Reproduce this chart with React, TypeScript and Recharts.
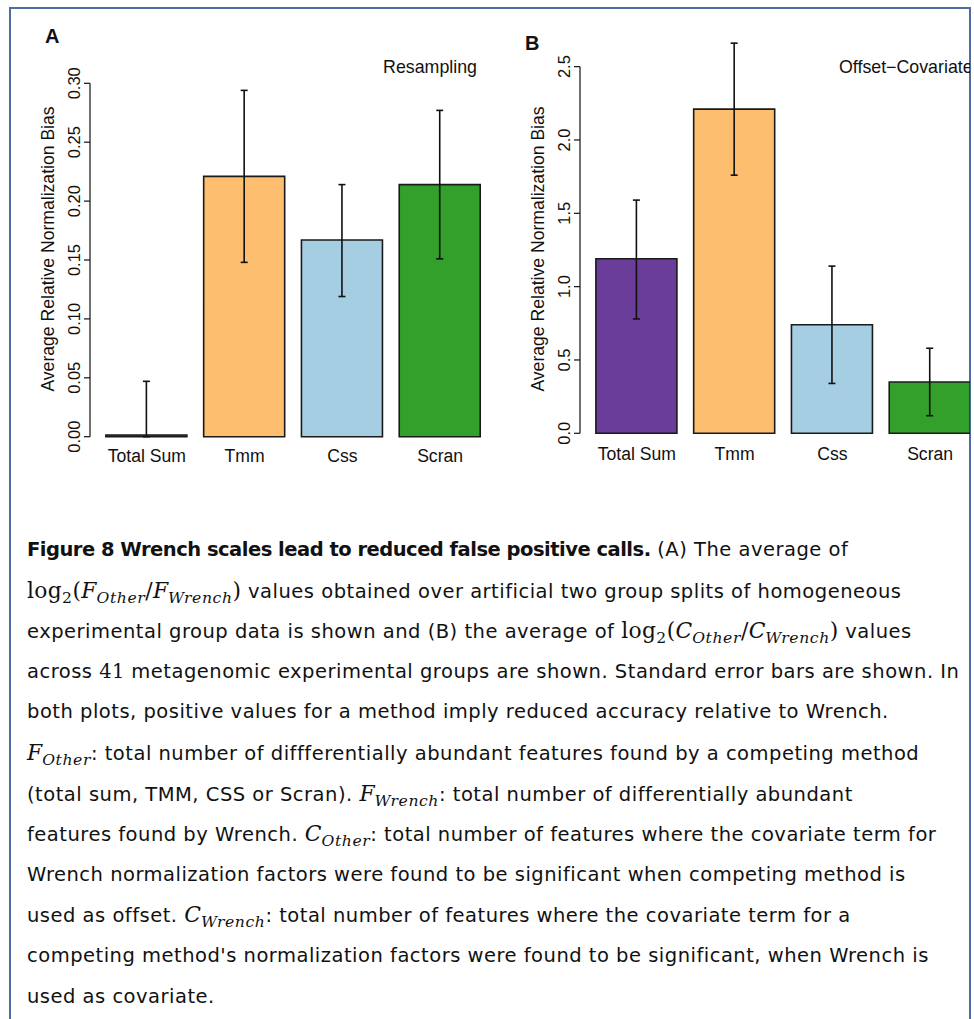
import React from "react";
import { BarChart, Bar, XAxis, YAxis, Cell, ErrorBar, ReferenceLine } from "recharts";

const methods = ["Total Sum", "Tmm", "Css", "Scran"];
const methodColors = ["#6A3D9A", "#FDBF6F", "#A6CEE3", "#33A02C"];

// panel A: resampling
const resamplingMean = [0.0015, 0.221, 0.167, 0.214];
const resamplingLow = [0.0, 0.148, 0.119, 0.151];
const resamplingHigh = [0.047, 0.294, 0.214, 0.277];
const resamplingTicks = [0, 0.05, 0.1, 0.15, 0.2, 0.25, 0.3];

// panel B: offset-covariate
const offsetMean = [1.19, 2.21, 0.74, 0.35];
const offsetLow = [0.78, 1.76, 0.34, 0.12];
const offsetHigh = [1.59, 2.66, 1.14, 0.58];
const offsetTicks = [0, 0.5, 1, 1.5, 2, 2.5];

const AXIS_FONT = "'Liberation Sans', Arial, Helvetica, sans-serif";
const CAPTION_FONT = "'DejaVu Sans', 'Noto Sans', sans-serif";
const MATH_FONT = "'DejaVu Serif', 'Liberation Serif', serif";
const FRAME = "#4d6e9e";
const X_AXIS_H = 30;

function buildRows(mean: number[], low: number[], high: number[]) {
  return methods.map((m, i) => ({
    method: m,
    value: mean[i],
    err: [mean[i] - low[i], high[i] - mean[i]],
  }));
}

function YTick(props: any) {
  const { x, y, payload, decimals } = props;
  return (
    <text
      x={x}
      y={y}
      transform={`rotate(-90 ${x} ${y})`}
      textAnchor="middle"
      fontSize={16.5}
      fontFamily={AXIS_FONT}
      fill="#111"
    >
      {Number(payload.value).toFixed(decimals)}
    </text>
  );
}

function XTick(props: any) {
  const { x, y, payload, dy } = props;
  return (
    <text x={x} y={y + dy} textAnchor="middle" fontSize={17.6} fontFamily={AXIS_FONT} fill="#111">
      {payload.value}
    </text>
  );
}

interface PanelProps {
  rows: { method: string; value: number; err: number[] }[];
  ticks: number[];
  yMax: number;
  decimals: number;
  top: number;
  bottom: number;
  labelDy: number;
}

function Panel({ rows, ticks, yMax, decimals, top, bottom, labelDy }: PanelProps) {
  return (
    <BarChart
      width={490}
      height={480}
      data={rows}
      margin={{ top, right: 1, bottom: bottom - X_AXIS_H, left: 0 }}
    >
      <XAxis
        dataKey="method"
        height={X_AXIS_H}
        axisLine={false}
        tickLine={false}
        tickSize={0}
        tickMargin={0}
        interval={0}
        padding={{ left: 7.9, right: 0 }}
        tick={<XTick dy={labelDy} />}
      />
      <XAxis xAxisId="frame" type="number" domain={[0, 1]} hide />
      <YAxis
        width={90}
        type="number"
        domain={[0, yMax]}
        ticks={ticks}
        interval={0}
        axisLine={false}
        tickLine={{ stroke: "#111", strokeWidth: 1.2 }}
        tickSize={6}
        tickMargin={4}
        tick={<YTick decimals={decimals} />}
      />
      <ReferenceLine
        xAxisId="frame"
        segment={[
          { x: 0, y: ticks[0] },
          { x: 0, y: ticks[ticks.length - 1] },
        ]}
        stroke="#111"
        strokeWidth={1.2}
      />
      <Bar dataKey="value" barSize={81} stroke="#1a1a1a" strokeWidth={1.6} isAnimationActive={false}>
        {rows.map((_, i) => (
          <Cell key={i} fill={methodColors[i]} />
        ))}
        <ErrorBar dataKey="err" direction="y" width={3.5} stroke="#111" strokeWidth={1.6} isAnimationActive={false} />
      </Bar>
    </BarChart>
  );
}

function PanelText({ letter, letterX, letterY, title, titleX, anchor }: any) {
  return (
    <svg width={490} height={480} style={{ position: "absolute", left: 0, top: 0, pointerEvents: "none" }}>
      <text x={letterX} y={letterY} fontSize={20} fontWeight="bold" fontFamily={AXIS_FONT} fill="#111">
        {letter}
      </text>
      <text x={titleX} y={73} textAnchor={anchor} fontSize={17.8} fontFamily={AXIS_FONT} fill="#111">
        {title}
      </text>
      <text
        x={54}
        y={249}
        transform="rotate(-90 54 249)"
        textAnchor="middle"
        fontSize={17.6}
        fontFamily={AXIS_FONT}
        fill="#111"
      >
        Average Relative Normalization Bias
      </text>
    </svg>
  );
}

// caption math bits (LaTeX-ish)
const M = ({ children }: { children: React.ReactNode }) => (
  <span style={{ fontFamily: MATH_FONT, fontStyle: "italic", fontSize: "1.12em", letterSpacing: 0 }}>{children}</span>
);
const Sub = ({ children, italic = true }: { children: React.ReactNode; italic?: boolean }) => (
  <sub
    style={{
      fontFamily: MATH_FONT,
      fontStyle: italic ? "italic" : "normal",
      fontSize: "0.8em",
      lineHeight: 0,
      verticalAlign: "-0.3em",
      letterSpacing: "0.6px",
    }}
  >
    {children}
  </sub>
);
const Up = ({ children, size = "1.12em" }: { children: React.ReactNode; size?: string }) => (
  <span style={{ fontFamily: MATH_FONT, fontSize: size, letterSpacing: "0.3px" }}>{children}</span>
);

function Log2({ sym }: { sym: string }) {
  return (
    <span>
      <Up>log</Up>
      <Sub italic={false}>2</Sub>
      <Up>(</Up>
      <M>{sym}</M>
      <Sub>Other</Sub>
      <Up>/</Up>
      <M>{sym}</M>
      <Sub>Wrench</Sub>
      <Up>)</Up>
    </span>
  );
}

const Bold = ({ children }: { children: React.ReactNode }) => (
  <b style={{ letterSpacing: "-0.5px" }}>{children}</b>
);

const captionLines: React.ReactNode[] = [
  <>
    <Bold>Figure 8 Wrench scales lead to reduced false positive calls.</Bold> (A) The average of
  </>,
  <>
    <Log2 sym="F" /> values obtained over artificial two group splits of homogeneous
  </>,
  <>
    experimental group data is shown and (B) the average of <Log2 sym="C" /> values
  </>,
  <>
    across <Up size="1em">41</Up> metagenomic experimental groups are shown. Standard error bars are shown. In
  </>,
  <>both plots, positive values for a method imply reduced accuracy relative to Wrench.</>,
  <>
    <M>F</M>
    <Sub>Other</Sub>: total number of diffferentially abundant features found by a competing method
  </>,
  <>
    (total sum, TMM, CSS or Scran). <M>F</M>
    <Sub>Wrench</Sub>: total number of differentially abundant
  </>,
  <>
    features found by Wrench. <M>C</M>
    <Sub>Other</Sub>: total number of features where the covariate term for
  </>,
  <>Wrench normalization factors were found to be significant when competing method is</>,
  <>
    used as offset. <M>C</M>
    <Sub>Wrench</Sub>: total number of features where the covariate term for a
  </>,
  <>competing method's normalization factors were found to be significant, when Wrench is</>,
  <>used as covariate.</>,
];

export default function App() {
  const rowsA = buildRows(resamplingMean, resamplingLow, resamplingHigh);
  const rowsB = buildRows(offsetMean, offsetLow, offsetHigh);

  return (
    <div
      style={{
        position: "absolute",
        left: 0,
        top: 0,
        width: 974,
        height: 1019,
        overflow: "hidden",
        background: "#fff",
      }}
    >
      {/* frame */}
      <div
        style={{
          position: "absolute",
          left: 9,
          top: 7,
          width: 958,
          height: 1100,
          borderTop: `2px solid ${FRAME}`,
          borderLeft: `2px solid ${FRAME}`,
          borderRight: `2px solid ${FRAME}`,
        }}
      />

      {/* panel A */}
      <div style={{ position: "absolute", left: 0, top: 0, width: 490, height: 480 }}>
        <Panel rows={rowsA} ticks={resamplingTicks} yMax={0.3} decimals={2} top={83.3} bottom={43.3} labelDy={25} />
        <PanelText letter="A" letterX={45} letterY={43} title="Resampling" titleX={477} anchor="end" />
      </div>

      {/* panel B */}
      <div style={{ position: "absolute", left: 490, top: 0, width: 480, height: 480, overflow: "hidden" }}>
        <Panel rows={rowsB} ticks={offsetTicks} yMax={2.7} decimals={1} top={37.3} bottom={46.7} labelDy={26.5} />
        <PanelText letter="B" letterX={35} letterY={50} title="Offset−Covariate" titleX={349} anchor="start" />
      </div>

      {/* caption */}
      <div
        style={{
          position: "absolute",
          left: 27,
          top: 530,
          fontFamily: CAPTION_FONT,
          fontSize: 19.5,
          letterSpacing: "0.5px",
          color: "#111",
        }}
      >
        {captionLines.map((line, i) => (
          <div key={i} style={{ height: 40.6, lineHeight: "40.6px", whiteSpace: "nowrap" }}>
            {line}
          </div>
        ))}
      </div>
    </div>
  );
}
